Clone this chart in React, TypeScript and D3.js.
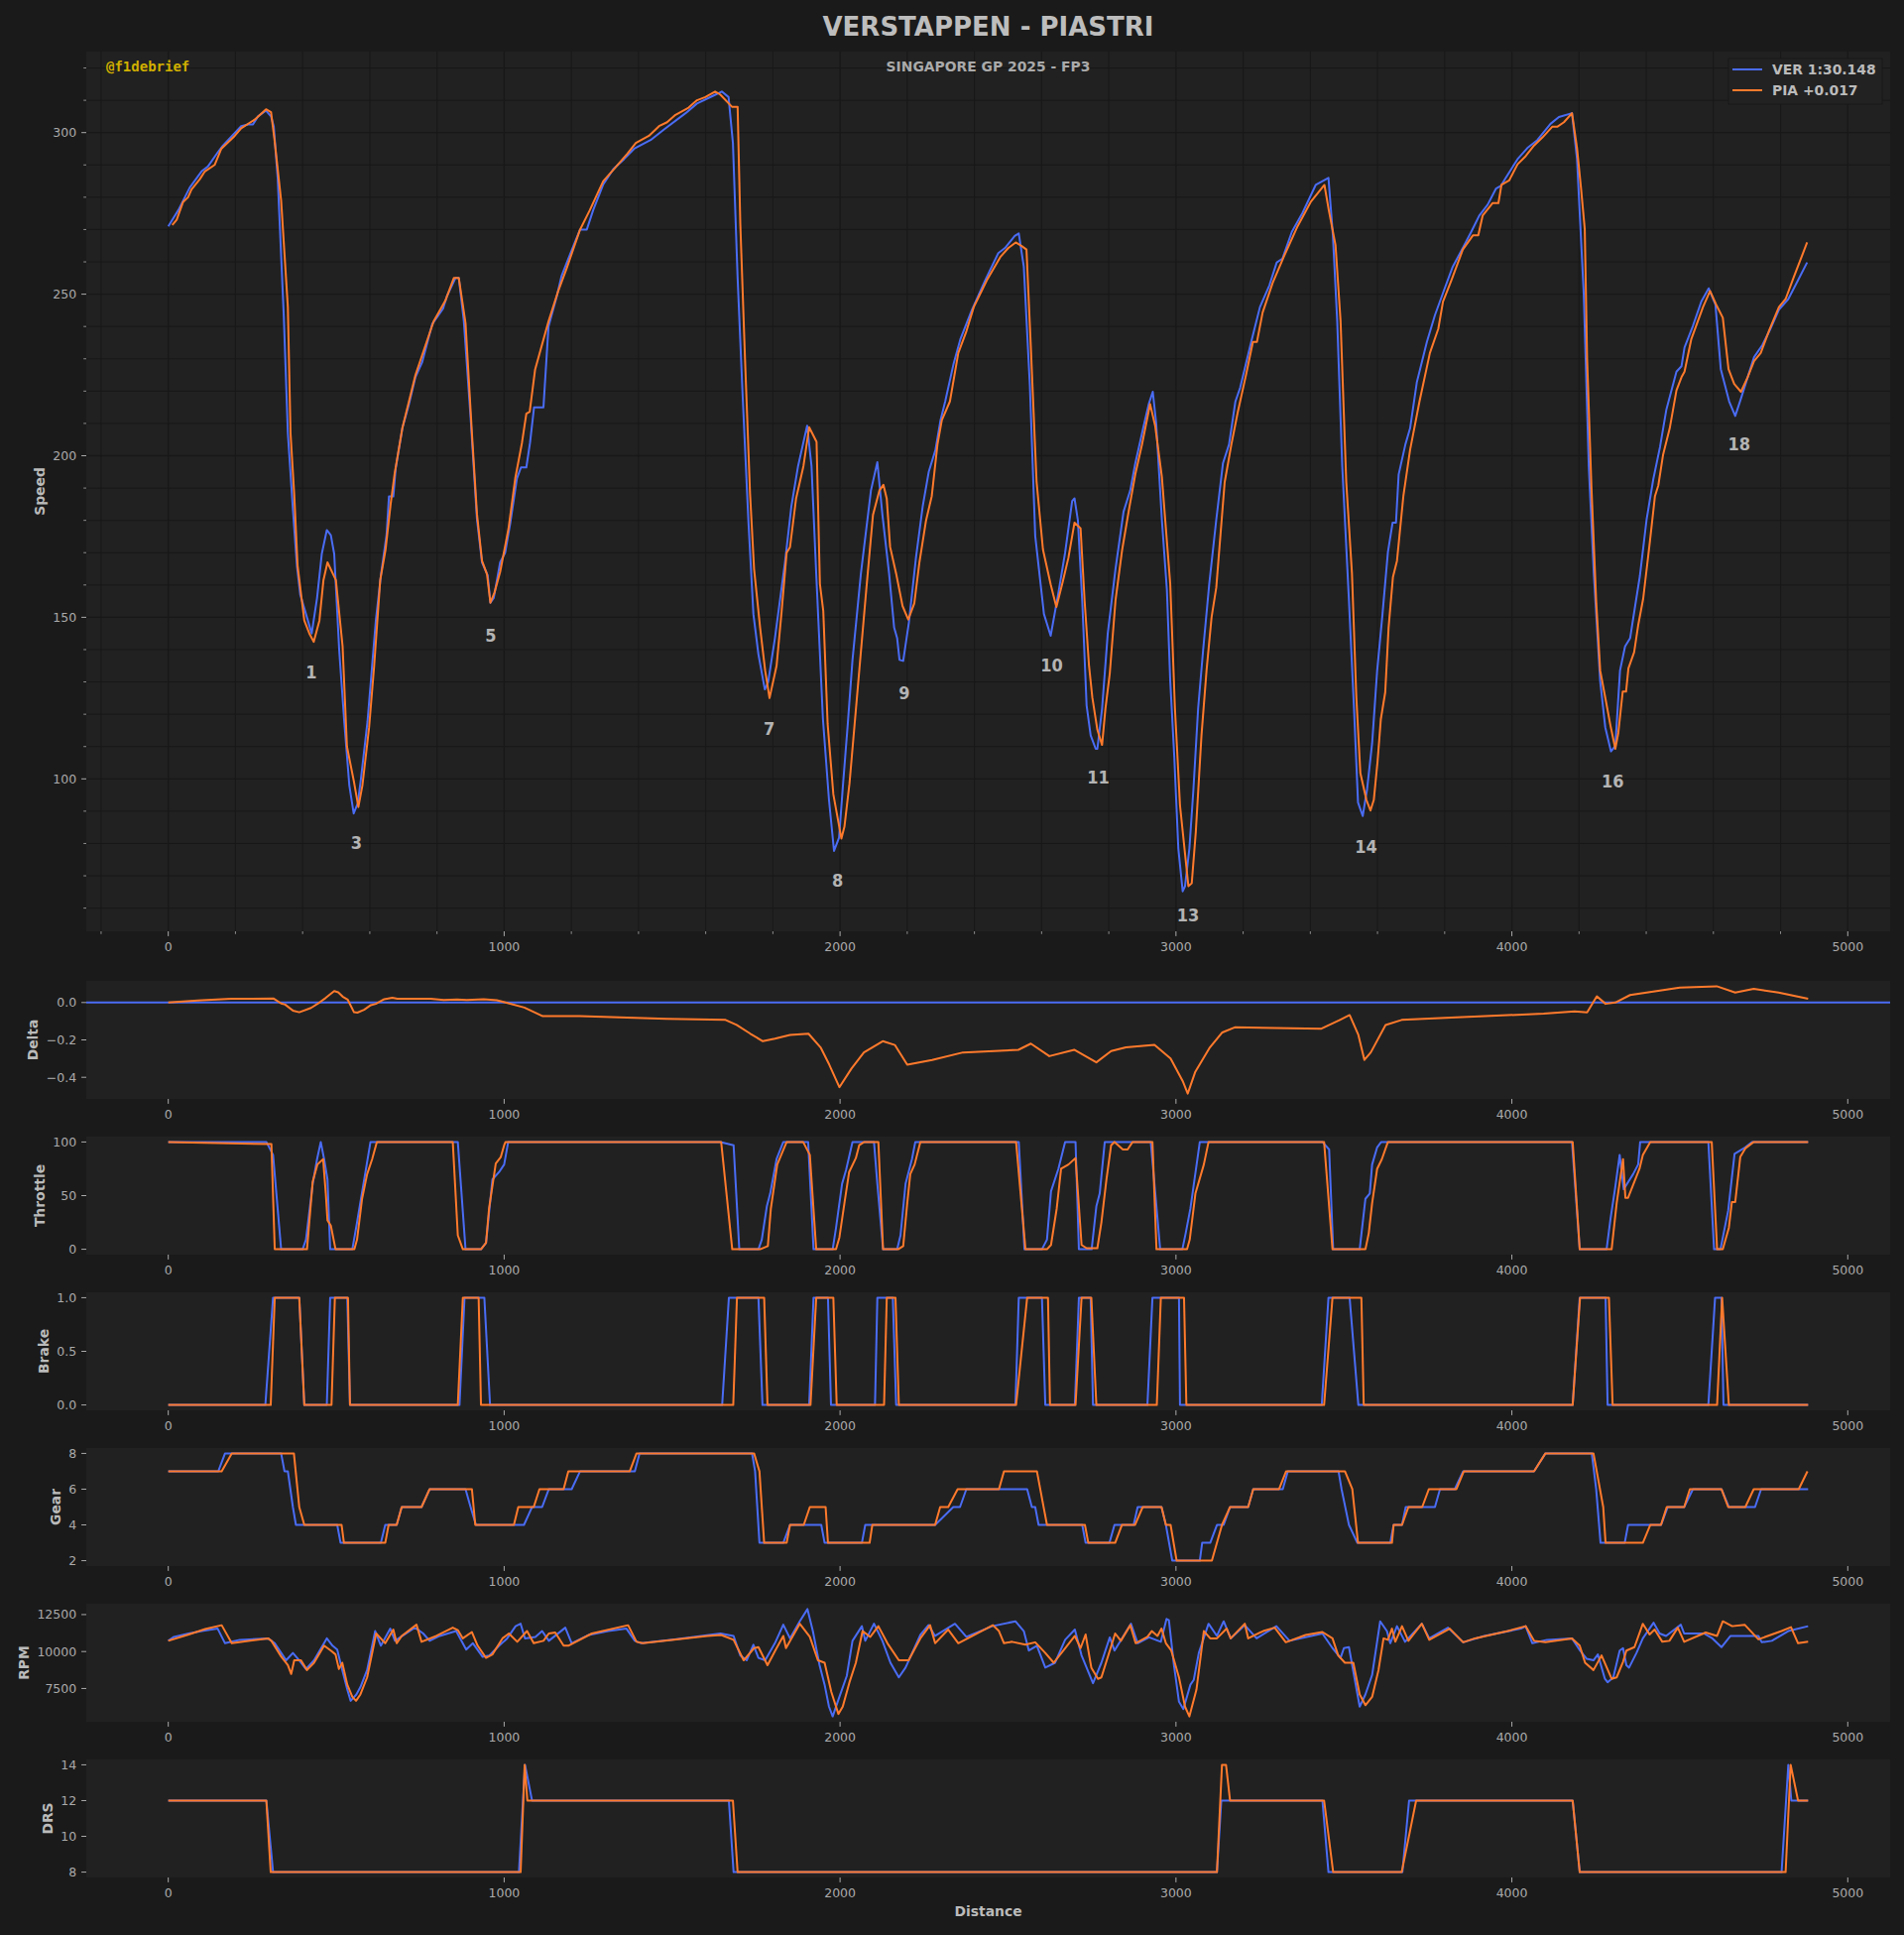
import React, { useEffect, useRef } from 'react';
import * as d3 from 'd3';

type Pt = [number, number]; // [distance, value]

// Speed (km/h) along the lap
const verSpeed: Pt[] = [
  [0, 271], [30, 276], [64, 283], [99, 288], [118, 289.5], [148, 294], [163, 296], [217, 302], [237, 302.5], [252, 302.5],
  [267, 305], [291, 306.8], [306, 305], [314, 302], [326, 285.6], [344, 243], [356, 207], [371, 183.5], [383, 166], [393, 157],
  [410, 151], [427, 145], [443, 156], [457, 169.6], [472, 177], [484, 175.4], [494, 169.6], [509, 139.6], [524, 117.6], [539, 98],
  [552, 89.3], [564, 92.4], [573, 99.5], [593, 117.6], [618, 149], [633, 163], [650, 175.6], [657, 187.4], [670, 187.4], [677, 196],
  [697, 208.6], [716, 215.7], [736, 224.4], [756, 229], [786, 240.8], [818, 245.5], [830, 249.5], [855, 255], [865, 255], [880, 241.6],
  [900, 211.8], [919, 180.4], [934, 167], [951, 163], [959, 154.5], [969, 156], [988, 167], [1003, 170], [1018, 179], [1038, 193],
  [1050, 196.4], [1066, 196.4], [1077, 204], [1089, 215], [1117, 215], [1132, 240], [1157, 249.5], [1171, 255.7], [1201, 263.6], [1226, 270],
  [1246, 270], [1265, 276], [1295, 284], [1325, 288.7], [1357, 291.8], [1387, 295], [1436, 297.7], [1476, 301], [1540, 306], [1574, 309],
  [1624, 311.5], [1648, 312.7], [1668, 311], [1681, 296.8], [1695, 255], [1710, 218.5], [1727, 180], [1742, 151], [1757, 138.5], [1776, 127.7],
  [1786, 130], [1806, 143.5], [1836, 167], [1855, 184.3], [1875, 196.8], [1902, 209.3], [1915, 196.8], [1929, 163.5], [1949, 118.5], [1967, 93.5],
  [1982, 77.7], [1997, 81.8], [2009, 98.5], [2023, 117], [2037, 136.8], [2062, 163.5], [2092, 189.3], [2111, 198], [2126, 181.8], [2146, 163.5],
  [2161, 146.8], [2170, 143.5], [2177, 136.8], [2188, 136.5], [2205, 148.5], [2226, 168.5], [2246, 184.3], [2264, 195], [2284, 201.8], [2299, 211],
  [2313, 216.8], [2338, 228.5], [2358, 236], [2392, 245], [2432, 254.3], [2471, 262.7], [2491, 264.3], [2520, 268], [2532, 268.8], [2547, 258.5],
  [2565, 221.8], [2581, 175.2], [2607, 151], [2627, 144.3], [2649, 157], [2670, 170], [2691, 186], [2698, 186.8], [2708, 180], [2721, 155],
  [2734, 122.7], [2746, 113.5], [2761, 109.3], [2766, 109.3], [2780, 121.7], [2797, 145], [2820, 165], [2844, 182.7], [2864, 189.3], [2879, 197.7],
  [2904, 209.3], [2919, 216], [2931, 219.8], [2941, 210.2], [2958, 180.2], [2973, 158.5], [2983, 130.2], [2995, 106.8], [3007, 78.5], [3020, 65.2],
  [3027, 66.8], [3040, 78.5], [3052, 96.8], [3066, 121.8], [3081, 140], [3099, 160.2], [3120, 180.2], [3140, 197.7], [3158, 203.5], [3177, 216.8],
  [3191, 221], [3224, 235.2], [3250, 246], [3278, 252.7], [3300, 259.8], [3317, 261], [3345, 269.3], [3377, 275.2], [3416, 283.8], [3454, 286],
  [3467, 268.5], [3480, 241.8], [3495, 196.8], [3515, 155.2], [3530, 121.8], [3542, 92.7], [3556, 88.5], [3569, 96.8], [3584, 111], [3599, 133.5],
  [3614, 150], [3631, 170.2], [3645, 179.3], [3655, 179.3], [3663, 194.2], [3683, 203.5], [3697, 208.5], [3717, 222.7], [3747, 235.2], [3771, 243.5],
  [3800, 251.8], [3824, 258.5], [3854, 264.3], [3879, 269.3], [3903, 274.3], [3928, 277.7], [3953, 282.7], [3967, 283.5], [3982, 286], [4017, 291.8],
  [4046, 295.2], [4076, 297.7], [4115, 302.7], [4140, 304.8], [4179, 306], [4194, 291.8], [4214, 250.2], [4229, 196.8], [4244, 163.5], [4263, 130.2],
  [4278, 116], [4295, 108.5], [4308, 110.2], [4322, 133.5], [4337, 141], [4352, 143.5], [4367, 153.5], [4381, 162.7], [4401, 180.2], [4421, 192.7],
  [4441, 202.7], [4460, 214.3], [4490, 226], [4505, 227.7], [4514, 233.5], [4539, 240.2], [4564, 247.7], [4586, 251.8], [4606, 246.8], [4622, 226.8],
  [4647, 216.8], [4665, 212.3], [4682, 217.7], [4702, 224.3], [4721, 230.5], [4746, 234.3], [4770, 239.3], [4795, 245.2], [4823, 248.5], [4844, 252.7],
  [4879, 259.8],
];

const piaSpeed: Pt[] = [
  [12, 271.4], [25, 273], [44, 278.5], [59, 280], [69, 282.4], [94, 285.6], [109, 288], [138, 290], [158, 295], [198, 299],
  [217, 301.3], [257, 304], [291, 307.2], [306, 306.3], [316, 298], [336, 279], [356, 246], [364, 207], [375, 188], [385, 166],
  [405, 149], [420, 145], [433, 142.4], [450, 149], [462, 161.5], [474, 167], [499, 161.5], [519, 141], [532, 110], [553, 99],
  [566, 91.3], [578, 98], [598, 116], [613, 135], [631, 161.5], [647, 171], [662, 185], [674, 194.5], [697, 208.6], [736, 225],
  [790, 241.6], [825, 248], [850, 255], [865, 255], [885, 241], [904, 207], [919, 182], [934, 167.5], [949, 163.3], [959, 154.5],
  [971, 157.6], [988, 164], [1013, 177.5], [1033, 193], [1053, 204], [1066, 213], [1076, 213.6], [1092, 226.6], [1132, 241.6], [1161, 251],
  [1186, 258], [1226, 270], [1255, 276], [1295, 285], [1328, 288.8], [1367, 293.5], [1392, 296.8], [1431, 299], [1461, 302], [1485, 303.2],
  [1510, 305.5], [1549, 307.7], [1574, 310], [1599, 311], [1628, 312.7], [1643, 311.8], [1678, 308], [1695, 308], [1703, 271.8], [1717, 230],
  [1732, 188.3], [1744, 165], [1762, 146.8], [1777, 133.5], [1790, 125], [1811, 135], [1826, 151.8], [1841, 170], [1851, 171.7], [1869, 186.7],
  [1891, 196.8], [1908, 208.8], [1930, 204.3], [1940, 160.3], [1950, 152], [1963, 117], [1980, 95.2], [2004, 81.5], [2013, 85.2], [2028, 98.5],
  [2053, 128.5], [2078, 158.5], [2098, 181.7], [2117, 189.2], [2129, 191], [2139, 186.7], [2149, 171.8], [2167, 163.5], [2186, 153.5], [2203, 149.3],
  [2221, 154.3], [2236, 166.8], [2256, 180], [2273, 187.5], [2290, 203.5], [2303, 211], [2327, 216.8], [2352, 231.8], [2376, 238.5], [2398, 246],
  [2437, 254.3], [2477, 261.5], [2501, 264.3], [2523, 266], [2542, 264.8], [2555, 263.8], [2568, 233.5], [2585, 192], [2604, 171], [2627, 160.2],
  [2644, 153.2], [2663, 161], [2680, 168.5], [2698, 179.3], [2716, 177.5], [2728, 155.2], [2741, 135.2], [2751, 125.2], [2766, 115.2], [2780, 110.5],
  [2790, 121.7], [2803, 132.7], [2820, 155.2], [2840, 171], [2859, 182.7], [2879, 194.3], [2899, 203.5], [2923, 216], [2938, 209.3], [2958, 193.5],
  [2983, 160.2], [2997, 121.8], [3012, 91.8], [3027, 76.8], [3037, 66.8], [3047, 67.7], [3059, 83.5], [3076, 113.5], [3091, 133.5], [3106, 150],
  [3120, 159.2], [3145, 191.8], [3165, 203.5], [3184, 213.5], [3209, 225.2], [3229, 235.2], [3241, 235.2], [3258, 244.3], [3288, 253.5], [3322, 261.8],
  [3362, 271], [3401, 278.5], [3442, 283.8], [3455, 276], [3475, 265.2], [3490, 241.8], [3507, 191.8], [3524, 163.5], [3537, 125.2], [3549, 101.8],
  [3567, 93.5], [3579, 90.2], [3589, 93.5], [3600, 105.2], [3610, 118.5], [3623, 126.8], [3633, 146.8], [3646, 162.5], [3658, 167.5], [3677, 187.5],
  [3697, 201.8], [3725, 216.8], [3756, 231.8], [3781, 239.3], [3795, 247.7], [3820, 254.3], [3854, 263.8], [3884, 268.2], [3900, 268.2], [3913, 274.3],
  [3943, 278.2], [3960, 278.2], [3969, 283.8], [3992, 285.2], [4017, 290.2], [4041, 292.7], [4066, 296], [4091, 298.5], [4120, 301.8], [4135, 301.8],
  [4155, 303.2], [4179, 306], [4194, 295.2], [4206, 282.7], [4217, 270.2], [4224, 230], [4237, 190], [4251, 155], [4263, 133.5], [4278, 125.2],
  [4293, 116.8], [4308, 109.3], [4317, 114.3], [4330, 127], [4340, 127], [4347, 134.2], [4364, 139.2], [4376, 147.5], [4391, 155.8], [4411, 173.5],
  [4426, 187.5], [4436, 190.8], [4450, 200.2], [4470, 208.5], [4490, 220.2], [4505, 224.3], [4514, 226], [4534, 236], [4569, 246], [4590, 251],
  [4608, 246.8], [4628, 242.7], [4645, 226.8], [4662, 222.2], [4682, 219.8], [4702, 224.3], [4721, 229.3], [4741, 231.8], [4766, 238.8], [4795, 246],
  [4815, 248.5], [4839, 255.2], [4879, 266],
];

// Gap of PIA to VER (s)
const piaDelta: Pt[] = [
  [0, 0], [88, 0.011], [187, 0.02], [314, 0.021], [336, -0.005], [348, -0.011], [371, -0.043], [390, -0.052], [425, -0.029], [450, 0],
  [469, 0.025], [494, 0.061], [506, 0.055], [519, 0.032], [534, 0.016], [553, -0.052], [563, -0.054], [583, -0.039], [603, -0.014], [618, -0.007],
  [643, 0.018], [667, 0.025], [682, 0.02], [781, 0.02], [820, 0.014], [860, 0.016], [889, 0.014], [939, 0.018], [978, 0.012], [1004, 0],
  [1060, -0.027], [1115, -0.073], [1225, -0.073], [1483, -0.087], [1659, -0.093], [1692, -0.12], [1733, -0.167], [1770, -0.207], [1806, -0.193], [1851, -0.173],
  [1906, -0.167], [1942, -0.24], [1968, -0.333], [1998, -0.453], [2034, -0.353], [2071, -0.267], [2127, -0.207], [2163, -0.227], [2200, -0.333], [2274, -0.307],
  [2366, -0.267], [2531, -0.253], [2568, -0.22], [2623, -0.287], [2697, -0.253], [2763, -0.32], [2807, -0.26], [2851, -0.24], [2936, -0.227], [2984, -0.3],
  [3020, -0.42], [3035, -0.487], [3057, -0.373], [3101, -0.24], [3138, -0.16], [3175, -0.133], [3433, -0.14], [3488, -0.093], [3517, -0.067], [3543, -0.173],
  [3561, -0.307], [3580, -0.267], [3624, -0.12], [3672, -0.093], [3819, -0.08], [4095, -0.06], [4187, -0.047], [4224, -0.053], [4253, 0.033], [4279, -0.007],
  [4308, 0], [4352, 0.04], [4500, 0.08], [4610, 0.087], [4665, 0.053], [4720, 0.073], [4794, 0.053], [4882, 0.02],
];

const verThrottle: Pt[] = [
  [0, 100], [292, 100], [312, 88], [336, 0], [400, 0], [410, 9], [430, 61], [443, 84], [454, 100], [464, 84], [474, 65], [482, 0],
  [548, 0], [562, 25], [602, 100], [862, 100], [885, 0], [931, 0], [946, 6], [965, 65], [985, 72], [1000, 79], [1012, 100],
  [1644, 100], [1683, 97], [1700, 0], [1757, 0], [1767, 9], [1782, 40], [1792, 52], [1811, 84], [1831, 100], [1905, 100], [1921, 0],
  [1978, 0], [1988, 20], [2006, 61], [2018, 74], [2037, 100], [2101, 100], [2111, 61], [2128, 0], [2170, 0], [2180, 13], [2195, 61],
  [2214, 84], [2224, 100], [2532, 100], [2549, 0], [2601, 0], [2616, 9], [2628, 54], [2650, 75], [2670, 100], [2701, 100], [2711, 0],
  [2749, 0], [2763, 40], [2773, 52], [2788, 100], [2925, 100], [2953, 0], [3019, 0], [3029, 15], [3043, 38], [3071, 100], [3436, 100],
  [3456, 93], [3468, 0], [3547, 0], [3564, 47], [3577, 52], [3584, 79], [3599, 95], [3611, 100], [4179, 100], [4202, 0], [4282, 0],
  [4294, 29], [4307, 56], [4321, 88], [4333, 56], [4361, 70], [4376, 79], [4382, 100], [4585, 100], [4602, 0], [4621, 0], [4644, 36],
  [4663, 89], [4695, 95], [4715, 100], [4882, 100],
];

const piaThrottle: Pt[] = [
  [0, 100], [307, 98], [317, 0], [413, 0], [430, 63], [444, 79], [461, 84], [469, 52], [474, 27], [484, 22], [498, 0], [554, 0],
  [562, 9], [577, 47], [592, 70], [607, 84], [621, 100], [847, 100], [862, 13], [877, 0], [931, 0], [946, 6], [955, 38], [975, 80],
  [990, 86], [1000, 97], [1004, 100], [1646, 100], [1679, 0], [1762, 0], [1785, 3], [1794, 38], [1813, 79], [1841, 100], [1890, 100],
  [1910, 88], [1929, 0], [1988, 0], [1998, 11], [2013, 43], [2027, 72], [2047, 85], [2057, 97], [2072, 100], [2114, 100], [2128, 0],
  [2173, 0], [2188, 3], [2200, 43], [2209, 70], [2222, 79], [2239, 100], [2524, 100], [2552, 0], [2616, 0], [2628, 4], [2645, 38],
  [2658, 75], [2680, 79], [2701, 85], [2719, 4], [2734, 1], [2766, 1], [2778, 25], [2793, 65], [2807, 97], [2817, 100], [2842, 93],
  [2856, 93], [2871, 100], [2930, 100], [2942, 0], [3033, 0], [3041, 9], [3058, 52], [3083, 79], [3097, 100], [3441, 100], [3466, 0],
  [3564, 0], [3574, 15], [3584, 43], [3599, 75], [3613, 84], [3631, 100], [4181, 100], [4202, 0], [4297, 0], [4312, 43], [4331, 84],
  [4338, 48], [4346, 48], [4380, 75], [4390, 88], [4412, 100], [4595, 100], [4611, 0], [4628, 0], [4646, 20], [4655, 44], [4665, 44],
  [4680, 86], [4695, 94], [4720, 100], [4882, 100],
];

const verBrake: Pt[] = [
  [0, 0], [289, 0], [312, 1], [390, 1], [405, 0], [472, 0], [482, 1], [533, 1], [541, 0], [867, 0], [882, 1], [941, 1], [958, 0],
  [1649, 0], [1669, 1], [1757, 1], [1769, 0], [1908, 0], [1921, 1], [1964, 1], [1973, 0], [2104, 0], [2111, 1], [2157, 1], [2167, 0],
  [2522, 0], [2532, 1], [2601, 1], [2611, 0], [2699, 0], [2711, 1], [2746, 1], [2753, 0], [2915, 0], [2930, 1], [3009, 1], [3012, 0],
  [3434, 0], [3454, 1], [3517, 1], [3543, 0], [4181, 0], [4202, 1], [4279, 1], [4285, 0], [4585, 0], [4605, 1], [4624, 1], [4630, 0],
  [4882, 0],
];

const piaBrake: Pt[] = [
  [0, 0], [305, 0], [317, 1], [390, 1], [405, 0], [486, 0], [496, 1], [535, 1], [541, 0], [862, 0], [877, 1], [924, 1], [931, 0],
  [1682, 0], [1693, 1], [1774, 1], [1784, 0], [1912, 0], [1929, 1], [1980, 1], [1990, 0], [2131, 0], [2139, 1], [2165, 1], [2175, 0],
  [2524, 0], [2557, 1], [2619, 1], [2625, 0], [2701, 0], [2719, 1], [2748, 1], [2763, 0], [2943, 0], [2955, 1], [3024, 1], [3031, 0],
  [3441, 0], [3466, 1], [3552, 1], [3559, 0], [4181, 0], [4203, 1], [4289, 1], [4300, 0], [4611, 0], [4626, 1], [4646, 0], [4882, 0],
];

const verGear: Pt[] = [
  [0, 7], [149, 7], [169, 8], [336, 8], [346, 7], [356, 7], [371, 5], [380, 4], [503, 4], [513, 3], [633, 3], [646, 4], [680, 4],
  [695, 5], [754, 5], [778, 6], [885, 6], [900, 5], [916, 4], [1059, 4], [1083, 5], [1113, 5], [1133, 6], [1201, 6], [1226, 7],
  [1389, 7], [1403, 8], [1738, 8], [1747, 7], [1760, 3], [1831, 3], [1851, 4], [1944, 4], [1954, 3], [2065, 3], [2075, 4], [2283, 4],
  [2337, 5], [2357, 5], [2376, 6], [2557, 6], [2571, 5], [2581, 5], [2591, 4], [2721, 4], [2731, 3], [2802, 3], [2817, 4], [2874, 4],
  [2886, 5], [2957, 5], [2970, 4], [2989, 2], [3071, 2], [3078, 3], [3102, 3], [3122, 4], [3142, 4], [3161, 5], [3215, 5], [3230, 6],
  [3318, 6], [3333, 7], [3484, 7], [3493, 6], [3515, 4], [3540, 3], [3638, 3], [3648, 4], [3673, 4], [3684, 5], [3771, 5], [3786, 6],
  [3830, 6], [3855, 7], [4066, 7], [4100, 8], [4238, 8], [4251, 6], [4264, 3], [4336, 3], [4346, 4], [4444, 4], [4464, 5], [4513, 5],
  [4539, 6], [4624, 6], [4646, 5], [4724, 5], [4742, 6], [4882, 6],
];

const piaGear: Pt[] = [
  [0, 7], [159, 7], [189, 8], [374, 8], [390, 5], [405, 4], [516, 4], [523, 3], [646, 3], [656, 4], [680, 4], [695, 5], [754, 5],
  [778, 6], [904, 6], [914, 4], [1029, 4], [1042, 5], [1088, 5], [1105, 6], [1177, 6], [1191, 7], [1374, 7], [1394, 8], [1744, 8],
  [1760, 7], [1774, 3], [1841, 3], [1851, 4], [1892, 4], [1910, 5], [1957, 5], [1964, 3], [2088, 3], [2096, 4], [2283, 4], [2298, 5],
  [2322, 5], [2350, 6], [2473, 6], [2488, 7], [2586, 7], [2616, 4], [2729, 4], [2739, 3], [2819, 3], [2839, 4], [2878, 4], [2901, 5],
  [2957, 5], [2970, 4], [2984, 4], [3002, 2], [3107, 2], [3137, 4], [3161, 5], [3215, 5], [3230, 6], [3307, 6], [3328, 7], [3503, 7],
  [3525, 6], [3542, 3], [3643, 3], [3648, 4], [3673, 4], [3692, 5], [3733, 5], [3753, 6], [3835, 6], [3857, 7], [4066, 7], [4100, 8],
  [4243, 8], [4272, 5], [4279, 3], [4390, 3], [4412, 4], [4444, 4], [4461, 5], [4513, 5], [4530, 6], [4624, 6], [4644, 5], [4695, 5],
  [4720, 6], [4854, 6], [4880, 7],
];

const verRpm: Pt[] = [
  [0, 10726], [17, 10990], [61, 11221], [100, 11386], [147, 11551], [169, 10561], [213, 10792], [297, 10891], [317, 10561], [351, 9406],
  [371, 9901], [390, 9406], [410, 8812], [434, 9406], [472, 10891], [489, 10396], [503, 10132], [518, 8746], [533, 7426], [543, 6667],
  [560, 7096], [572, 7591], [592, 8746], [616, 11386], [633, 10396], [661, 11551], [675, 10726], [729, 11551], [739, 11551], [759, 11221],
  [778, 10726], [808, 11056], [857, 11386], [887, 10132], [907, 10561], [936, 9637], [956, 9736], [985, 10396], [1009, 10891], [1034, 11716],
  [1049, 11881], [1062, 10891], [1093, 10990], [1113, 11386], [1133, 10726], [1182, 11617], [1201, 10561], [1252, 11122], [1310, 11386], [1364, 11551],
  [1389, 10726], [1408, 10561], [1507, 10825], [1644, 11221], [1683, 11056], [1703, 9736], [1722, 9406], [1742, 10462], [1757, 9571], [1777, 9406],
  [1806, 10561], [1831, 11815], [1851, 10891], [1880, 12046], [1903, 12871], [1919, 11386], [1939, 9076], [1954, 7756], [1967, 6271], [1978, 5611],
  [1998, 6931], [2020, 8350], [2037, 10726], [2065, 11716], [2075, 10726], [2101, 11881], [2126, 10726], [2150, 9241], [2175, 8251], [2195, 8911],
  [2239, 11122], [2263, 11782], [2283, 11056], [2342, 11881], [2376, 10990], [2453, 11716], [2522, 12046], [2547, 11386], [2562, 10066], [2586, 10396],
  [2611, 8911], [2640, 9241], [2670, 10792], [2699, 11485], [2719, 9736], [2753, 7855], [2778, 9241], [2803, 10957], [2817, 10066], [2866, 11881],
  [2886, 10561], [2920, 10957], [2955, 10660], [2972, 12211], [2979, 12112], [2994, 9076], [3009, 6601], [3022, 6106], [3043, 7756], [3053, 8086],
  [3068, 9901], [3097, 11881], [3122, 11056], [3142, 12046], [3163, 10891], [3205, 11782], [3240, 10891], [3299, 11716], [3338, 10726], [3436, 11221],
  [3466, 10231], [3490, 9571], [3500, 10231], [3515, 10297], [3547, 6271], [3564, 7096], [3584, 8416], [3608, 12046], [3628, 11386], [3638, 10561],
  [3658, 11716], [3682, 10660], [3732, 11881], [3754, 10891], [3810, 11617], [3855, 10627], [3918, 11056], [4027, 11551], [4041, 11716], [4061, 10561],
  [4105, 10792], [4179, 10891], [4203, 10066], [4223, 9505], [4243, 9406], [4256, 9802], [4277, 8152], [4285, 7921], [4302, 8251], [4321, 10066],
  [4331, 10231], [4341, 9076], [4349, 8911], [4371, 9901], [4390, 10891], [4422, 11947], [4440, 11221], [4459, 11056], [4503, 11815], [4513, 11221],
  [4572, 11221], [4597, 10891], [4624, 10297], [4651, 11056], [4734, 11056], [4744, 10627], [4774, 10726], [4823, 11386], [4882, 11716],
];

const piaRpm: Pt[] = [
  [0, 10726], [61, 11155], [110, 11518], [159, 11782], [189, 10561], [297, 10891], [307, 10726], [336, 9670], [356, 9076], [366, 8482],
  [375, 9406], [395, 9406], [413, 8746], [434, 9241], [464, 10396], [484, 10066], [498, 9802], [508, 8812], [518, 9241], [533, 7756],
  [548, 6931], [559, 6667], [572, 7096], [592, 8251], [619, 11221], [646, 10561], [670, 11485], [680, 10561], [695, 11056], [739, 11815],
  [754, 10660], [798, 11056], [847, 11617], [862, 11452], [877, 10891], [904, 11320], [921, 10396], [946, 9571], [965, 9802], [995, 10891],
  [1014, 11221], [1039, 10660], [1068, 11386], [1088, 10561], [1117, 10726], [1133, 11221], [1152, 11287], [1177, 10396], [1191, 10396], [1261, 11221],
  [1369, 11782], [1394, 10660], [1413, 10561], [1605, 11056], [1646, 11122], [1683, 10792], [1713, 9406], [1744, 10231], [1757, 10297], [1784, 9076],
  [1811, 10231], [1831, 11056], [1839, 10231], [1880, 11881], [1910, 10990], [1934, 9406], [1954, 9241], [1974, 7261], [1995, 5776], [2008, 6271],
  [2028, 7921], [2047, 9241], [2067, 11386], [2090, 10990], [2114, 11716], [2141, 10561], [2175, 9406], [2204, 9406], [2239, 10891], [2268, 11782],
  [2283, 10561], [2322, 11485], [2352, 10561], [2455, 11782], [2473, 11386], [2488, 10561], [2512, 10660], [2552, 10462], [2581, 10627], [2611, 9901],
  [2636, 9241], [2665, 10066], [2699, 11056], [2716, 10231], [2731, 11155], [2748, 8911], [2768, 8152], [2778, 8251], [2819, 11221], [2836, 10726],
  [2864, 11782], [2880, 10561], [2915, 10990], [2928, 11386], [2945, 11056], [2957, 11551], [2970, 10561], [2986, 10066], [3009, 8251], [3027, 6271],
  [3040, 5611], [3061, 7426], [3083, 11386], [3102, 10891], [3122, 10891], [3151, 11551], [3163, 10891], [3205, 11881], [3215, 10891], [3260, 11386],
  [3294, 11617], [3327, 10627], [3386, 11122], [3436, 11320], [3466, 10891], [3483, 9736], [3503, 9241], [3528, 9241], [3547, 7096], [3564, 6370],
  [3584, 6931], [3603, 8746], [3618, 10891], [3631, 10792], [3643, 11551], [3653, 10660], [3673, 11716], [3692, 10726], [3732, 11881], [3754, 10792],
  [3815, 11551], [3855, 10627], [3890, 10891], [3988, 11386], [4041, 11716], [4066, 10726], [4100, 10627], [4179, 10891], [4202, 10396], [4218, 9241],
  [4243, 8746], [4267, 9736], [4297, 8152], [4312, 8251], [4331, 9307], [4341, 10066], [4365, 10297], [4390, 11881], [4410, 11155], [4425, 11485],
  [4448, 10660], [4469, 10726], [4494, 11617], [4513, 10660], [4577, 11287], [4611, 11056], [4628, 12046], [4656, 11716], [4693, 11815], [4734, 10825],
  [4803, 11386], [4831, 11650], [4852, 10561], [4882, 10660],
];

const verDrs: Pt[] = [
  [0, 12], [292, 12], [312, 8], [1044, 8], [1062, 14], [1083, 12], [1669, 12], [1683, 8], [3122, 8], [3135, 12], [3436, 12],
  [3454, 8], [3674, 8], [3694, 12], [4181, 12], [4202, 8], [4803, 8], [4823, 14], [4832, 12], [4882, 12],
];

const piaDrs: Pt[] = [
  [0, 12], [292, 12], [305, 8], [1049, 8], [1061, 14], [1069, 12], [1681, 12], [1695, 8], [3122, 8], [3137, 14], [3149, 14],
  [3161, 12], [3441, 12], [3468, 8], [3672, 8], [3715, 12], [4181, 12], [4202, 8], [4815, 8], [4830, 14], [4852, 12], [4882, 12],
];

// corner numbers: label, distance, speed
const cornerLabels = ['1', '3', '5', '7', '8', '9', '10', '11', '13', '14', '16', '18'];
const cornerDist = [426, 560, 960, 1789, 1993, 2191, 2630, 2769, 3036, 3566, 4300, 4677];
const cornerSpeed = [133, 80.4, 144.3, 115.5, 68.5, 126.5, 135.2, 100.5, 58, 79, 99.2, 203.8];

const legendLabels = ['VER 1:30.148', 'PIA +0.017'];
const distanceTicks = [0, 1000, 2000, 3000, 4000, 5000];
const speedTicks = [100, 150, 200, 250, 300];
const deltaTicks = [-0.4, -0.2, 0];
const throttleTicks = [0, 50, 100];
const brakeTicks = [0, 0.5, 1];
const gearTicks = [2, 4, 6, 8];
const rpmTicks = [7500, 10000, 12500];
const drsTicks = [8, 10, 12, 14];

const W = 1920;
const H = 1951;
const LEFT = 87;
const RIGHT = 1906;
const BLUE = '#4a6cf4';
const ORANGE = '#ff7a2c';
const FONT = 'DejaVu Sans, sans-serif';

const App: React.FC = () => {
  const svgRef = useRef<SVGSVGElement>(null);

  useEffect(() => {
    if (!svgRef.current) return;
    document.body.style.margin = '0';

    const svg = d3.select(svgRef.current);
    svg.selectAll('*').remove();

    svg.append('rect').attr('width', W).attr('height', H).attr('fill', '#1a1a1a');

    // shared distance axis, matplotlib-style 5% margins
    const allDist = [verSpeed, piaSpeed, verThrottle, piaThrottle, verRpm, piaRpm].flat().map((d) => d[0]);
    const [dMin, dMax] = d3.extent(allDist) as [number, number];
    const dPad = (dMax - dMin) * 0.05;
    const x = d3.scaleLinear().domain([dMin - dPad, dMax + dPad]).range([LEFT, RIGHT]);

    const fmtInt = d3.format('d');
    const fmt1 = d3.format('.1f');

    const panels = [
      { name: 'Speed', ver: verSpeed, pia: piaSpeed, top: 52, bottom: 939, ticks: speedTicks, fmt: fmtInt, grid: true },
      { name: 'Delta', ver: null, pia: piaDelta, top: 989, bottom: 1108, ticks: deltaTicks, fmt: fmt1, grid: false },
      { name: 'Throttle', ver: verThrottle, pia: piaThrottle, top: 1146, bottom: 1265, ticks: throttleTicks, fmt: fmtInt, grid: false },
      { name: 'Brake', ver: verBrake, pia: piaBrake, top: 1303, bottom: 1422, ticks: brakeTicks, fmt: fmt1, grid: false },
      { name: 'Gear', ver: verGear, pia: piaGear, top: 1460, bottom: 1579, ticks: gearTicks, fmt: fmtInt, grid: false },
      { name: 'RPM', ver: verRpm, pia: piaRpm, top: 1617, bottom: 1736, ticks: rpmTicks, fmt: fmtInt, grid: false },
      { name: 'DRS', ver: verDrs, pia: piaDrs, top: 1774, bottom: 1893, ticks: drsTicks, fmt: fmtInt, grid: false },
    ];

    panels.forEach((p) => {
      const vals = [...(p.ver || []), ...p.pia].map((d) => d[1]);
      const [vMin, vMax] = d3.extent(vals) as [number, number];
      const vPad = (vMax - vMin) * 0.05;
      const y = d3.scaleLinear().domain([vMin - vPad, vMax + vPad]).range([p.bottom, p.top]);
      const g = svg.append('g');

      g.append('rect')
        .attr('x', LEFT).attr('y', p.top)
        .attr('width', RIGHT - LEFT).attr('height', p.bottom - p.top)
        .attr('fill', '#212121');

      const clipId = `clip-${p.name}`;
      svg.append('clipPath').attr('id', clipId)
        .append('rect').attr('x', LEFT).attr('y', p.top)
        .attr('width', RIGHT - LEFT).attr('height', p.bottom - p.top);

      const [yLo, yHi] = y.domain();
      const [xLo, xHi] = x.domain();

      if (p.grid) {
        const yMinor = d3.range(Math.ceil(yLo / 10) * 10, yHi, 10);
        const xMinor = d3.range(Math.ceil(xLo / 200) * 200, xHi, 200);
        g.selectAll('.gy').data(yMinor).enter().append('line')
          .attr('x1', LEFT).attr('x2', RIGHT)
          .attr('y1', (d) => y(d)).attr('y2', (d) => y(d))
          .attr('stroke', '#181818').attr('stroke-width', (d) => (d % 50 === 0 ? 1.3 : 1));
        g.selectAll('.gx').data(xMinor).enter().append('line')
          .attr('y1', p.top).attr('y2', p.bottom)
          .attr('x1', (d) => x(d)).attr('x2', (d) => x(d))
          .attr('stroke', '#181818').attr('stroke-width', (d) => (d % 1000 === 0 ? 1.3 : 1));
        // minor ticks
        g.selectAll('.mty').data(yMinor.filter((d) => d % 50 !== 0)).enter().append('line')
          .attr('x1', LEFT - 2.8).attr('x2', LEFT)
          .attr('y1', (d) => y(d)).attr('y2', (d) => y(d))
          .attr('stroke', '#aaaaaa').attr('stroke-width', 0.8);
        g.selectAll('.mtx').data(xMinor.filter((d) => d % 1000 !== 0)).enter().append('line')
          .attr('y1', p.bottom).attr('y2', p.bottom + 2.8)
          .attr('x1', (d) => x(d)).attr('x2', (d) => x(d))
          .attr('stroke', '#aaaaaa').attr('stroke-width', 0.8);
      }

      // y ticks
      const yt = g.selectAll('.yt').data(p.ticks).enter().append('g');
      yt.append('line')
        .attr('x1', LEFT - 4.9).attr('x2', LEFT)
        .attr('y1', (d) => y(d)).attr('y2', (d) => y(d))
        .attr('stroke', '#aaaaaa').attr('stroke-width', 1);
      const ytLabels = yt.append('text')
        .attr('x', LEFT - 9.8).attr('y', (d) => y(d) + 4.5)
        .attr('text-anchor', 'end')
        .attr('fill', '#aaaaaa')
        .attr('font-family', FONT).attr('font-size', 12.5)
        .text((d) => p.fmt(d));

      // x ticks
      const xt = g.selectAll('.xt').data(distanceTicks).enter().append('g');
      xt.append('line')
        .attr('x1', (d) => x(d)).attr('x2', (d) => x(d))
        .attr('y1', p.bottom).attr('y2', p.bottom + 4.9)
        .attr('stroke', '#aaaaaa').attr('stroke-width', 1);
      xt.append('text')
        .attr('x', (d) => x(d)).attr('y', p.bottom + 19.5)
        .attr('text-anchor', 'middle')
        .attr('fill', '#aaaaaa')
        .attr('font-family', FONT).attr('font-size', 12.5)
        .text((d) => fmtInt(d));

      // y label placed left of the widest tick label
      let maxW = 0;
      ytLabels.each(function () {
        maxW = Math.max(maxW, (this as SVGTextElement).getComputedTextLength());
      });
      const lx = LEFT - 9.8 - maxW - 13.5;
      const ly = (p.top + p.bottom) / 2;
      g.append('text')
        .attr('transform', `translate(${lx},${ly}) rotate(-90)`)
        .attr('text-anchor', 'middle')
        .attr('dominant-baseline', 'central')
        .attr('fill', '#bbbbbb')
        .attr('font-family', FONT).attr('font-size', 13.9).attr('font-weight', 'bold')
        .text(p.name);

      const line = d3.line<Pt>().x((d) => x(d[0])).y((d) => y(d[1]));
      const lines = g.append('g').attr('clip-path', `url(#${clipId})`);

      if (p.ver) {
        lines.append('path').datum(p.ver)
          .attr('d', line).attr('fill', 'none')
          .attr('stroke', BLUE).attr('stroke-width', 2).attr('stroke-linejoin', 'round');
      } else {
        // reference driver: zero line across the axes
        lines.append('line')
          .attr('x1', LEFT).attr('x2', RIGHT)
          .attr('y1', y(0)).attr('y2', y(0))
          .attr('stroke', BLUE).attr('stroke-width', 2);
      }
      lines.append('path').datum(p.pia)
        .attr('d', line).attr('fill', 'none')
        .attr('stroke', ORANGE).attr('stroke-width', 2).attr('stroke-linejoin', 'round');

      if (p.name === 'Speed') {
        // corner numbers
        g.selectAll('.corner').data(cornerLabels).enter().append('text')
          .attr('x', (_, i) => x(cornerDist[i]))
          .attr('y', (_, i) => y(cornerSpeed[i]))
          .attr('text-anchor', 'middle')
          .attr('dominant-baseline', 'central')
          .attr('fill', '#b4b4b4')
          .attr('font-family', 'Liberation Sans Narrow, DejaVu Sans Condensed, sans-serif')
          .attr('font-size', 18).attr('font-weight', 'bold')
          .text((d) => d);

        g.append('text')
          .attr('x', 107).attr('y', 72)
          .attr('fill', '#d1b000')
          .attr('font-family', 'DejaVu Sans Mono, monospace').attr('font-size', 14).attr('font-weight', 'bold')
          .text('@f1debrief');

        g.append('text')
          .attr('x', (LEFT + RIGHT) / 2).attr('y', 72)
          .attr('text-anchor', 'middle')
          .attr('fill', '#aaaaaa')
          .attr('font-family', FONT).attr('font-size', 13.9).attr('font-weight', 'bold')
          .text('SINGAPORE GP 2025 - FP3');

        // legend
        const lg = g.append('g');
        lg.append('rect')
          .attr('x', 1743).attr('y', 59).attr('width', 155).attr('height', 46)
          .attr('fill', '#222222').attr('stroke', '#181818').attr('stroke-width', 1);
        [BLUE, ORANGE].forEach((c, i) => {
          const yy = 70 + i * 21;
          lg.append('line')
            .attr('x1', 1747).attr('x2', 1777).attr('y1', yy).attr('y2', yy)
            .attr('stroke', c).attr('stroke-width', 2);
          lg.append('text')
            .attr('x', 1787).attr('y', yy + 5)
            .attr('fill', '#bbbbbb')
            .attr('font-family', FONT).attr('font-size', 13.9).attr('font-weight', 'bold')
            .text(legendLabels[i]);
        });
      }
    });

    svg.append('text')
      .attr('x', (LEFT + RIGHT) / 2).attr('y', 35.5)
      .attr('text-anchor', 'middle')
      .attr('fill', '#bdbdbd')
      .attr('font-family', FONT).attr('font-size', 26).attr('font-weight', 'bold')
      .text('VERSTAPPEN - PIASTRI');

    svg.append('text')
      .attr('x', (LEFT + RIGHT) / 2).attr('y', 1932)
      .attr('text-anchor', 'middle')
      .attr('fill', '#bbbbbb')
      .attr('font-family', FONT).attr('font-size', 13.9).attr('font-weight', 'bold')
      .text('Distance');
  }, []);

  return <svg ref={svgRef} width={W} height={H} style={{ display: 'block' }} />;
};

export default App;
